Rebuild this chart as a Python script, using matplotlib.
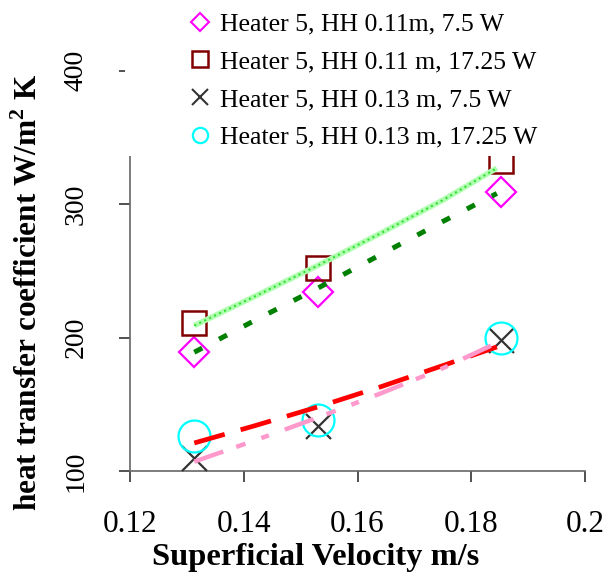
import matplotlib.pyplot as plt
from matplotlib.lines import Line2D
from matplotlib.patches import Rectangle

plt.rcParams['font.family'] = ['Liberation Serif', 'DejaVu Serif']
plt.rcParams['mathtext.fontset'] = 'custom'
plt.rcParams['mathtext.rm'] = 'Liberation Serif'
plt.rcParams['mathtext.bf'] = 'Liberation Serif:bold'

# measured points
vel = [0.1313, 0.153, 0.1852]
h_011_75 = [189, 234, 309]
h_011_1725 = [211, 252, 332]
h_013_75 = [110, 134, 198]
h_013_1725 = [126, 138, 200]

# trend lines
trend_vel = [0.1313, 0.142, 0.153, 0.164, 0.175, 0.1845]
trend_green_light = [209, 231, 254, 278, 303, 327]
trend_green_dark = [189, 213, 237, 262, 287, 308]
trend_red = [121, 134, 148, 163, 179, 193]
trend_pink = [107, 123, 140, 158, 177, 196]

labels = ['Heater 5, HH 0.11m, 7.5 W', 'Heater 5, HH 0.11 m, 17.25 W',
          'Heater 5, HH 0.13 m, 7.5 W', 'Heater 5, HH 0.13 m, 17.25 W']

fig = plt.figure(figsize=(6.09, 5.74), dpi=100)
ax = fig.add_axes([130 / 609, 103 / 574, 455 / 609, 400.3 / 574])

# markers
ax.plot(vel, h_011_75, ls='none', marker='D', ms=15.5, mfc='none', mec='#ff00ff', mew=1.6,
        zorder=3)
ax.plot(vel, h_011_1725, ls='none', marker='s', ms=17, mfc='none', mec='#800000', mew=1.8,
        zorder=3)
ax.plot(vel, h_013_75, ls='none', marker='x', ms=18, mec='#333333', mew=1.6, zorder=3)
ax.plot(vel, h_013_1725, ls='none', marker='o', ms=23, mfc='none', mec='#00ffff', mew=1.6,
        zorder=3)

# trend lines, drawn over the markers
ax.plot(trend_vel, trend_green_light, color='#b0ffb0', lw=4, solid_capstyle='butt', zorder=4)
ax.plot(trend_vel, trend_green_light, color='#33dd33', lw=1.5, ls=':', zorder=4)
ax.plot(trend_vel, trend_green_dark, color='#008000', lw=3.6, dashes=(1.8, 3.8), zorder=4)
ax.plot(trend_vel, trend_red, color='#ff0000', lw=3.4, dashes=(6.7, 3.5), zorder=4)
ax.plot(trend_vel, trend_pink, color='#ff99cc', lw=3.2,
        dashes=(6.9, 3.1, 2.2, 3.8, 1.8, 3.8), zorder=4)

ax.set_xlim(0.12, 0.2)
ax.set_ylim(100, 400)
ax.set_xticks([0.12, 0.14, 0.16, 0.18, 0.2])
ax.set_xticklabels(['0.12', '0.14', '0.16', '0.18', '0.2'])
ax.set_yticks([100, 200, 300, 400])

for s in ['top', 'right']:
    ax.spines[s].set_visible(False)
for s in ['left', 'bottom']:
    ax.spines[s].set_color('#666666')
    ax.spines[s].set_linewidth(1.2)

ax.tick_params(axis='both', direction='out', length=8, width=1.2, color='#333333')
ax.tick_params(axis='x', labelsize=22.5, pad=20)
ax.tick_params(axis='y', labelsize=20, labelrotation=90, pad=22)
for t in ax.get_yticklabels():
    t.set_verticalalignment('center')

ax.set_xlabel('Superficial Velocity m/s', fontsize=23.4, fontweight='bold')
ax.xaxis.set_label_coords(0.407, -0.18)
ax.set_ylabel(r'heat transfer coefficient W/m$^\mathbf{2}$ K', fontsize=22.5,
              fontweight='bold')
ax.yaxis.set_label_coords(-0.19, 0.445)

# white legend area covering the top of the plot
fig.add_artist(Rectangle((125 / 609, 1 - 156 / 574), 1, 156 / 574,
                         transform=fig.transFigure, facecolor='white',
                         edgecolor='none', zorder=5))
handles = [
    Line2D([], [], ls='none', marker='D', ms=9.4, mfc='none', mec='#ff00ff', mew=1.5),
    Line2D([], [], ls='none', marker='s', ms=11, mfc='none', mec='#800000', mew=1.8),
    Line2D([], [], ls='none', marker='x', ms=11, mec='#333333', mew=1.5),
    Line2D([], [], ls='none', marker='o', ms=11, mfc='none', mec='#00ffff', mew=1.6),
]
leg = fig.legend(handles, labels, loc='upper left', bbox_to_anchor=(174 / 609, 1.0),
                 frameon=False, fontsize=18.5, handlelength=1.0, handletextpad=0.3,
                 labelspacing=0.57, borderaxespad=0.1)
leg.set_zorder(6)

fig.savefig('out.png', dpi=100)
